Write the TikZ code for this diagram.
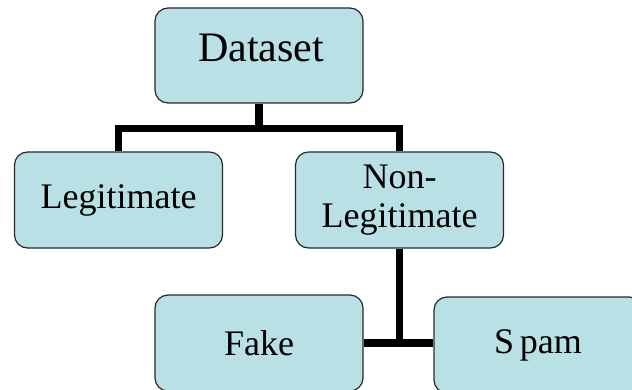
\documentclass[tikz,border=0pt]{standalone}
\usepackage{fontspec}
\setmainfont{Liberation Serif}
\usepackage{tikz}
\usetikzlibrary{positioning}
\usepackage{xcolor}

\definecolor{boxfill}{RGB}{185,224,228}
\definecolor{boxline}{RGB}{40,40,40}

\begin{document}
\begin{tikzpicture}[
    x=1pt, y=-1pt,
    box/.style={draw=boxline, line width=1.2pt, fill=boxfill, rounded corners=13pt,
                minimum width=208pt, minimum height=96pt, inner sep=0pt,
                align=center, font=\fontsize{36}{39}\selectfont},
    link/.style={line width=7.5pt, line cap=butt, line join=miter},
]
\clip (0,0) rectangle (632,389);

% ---- Boxes ----
\node[box, minimum height=95pt] (data) at (259,55.5) {};
\node[font=\fontsize{42}{46}\selectfont] at ([xshift=2pt, yshift=8pt]data.center) {Dataset};

\node[box] (legit) at (118.5,200) {Legitimate};
\node[box] (nonleg) at (399.5,200) {Non-\\Legitimate};

\node[box] (fake) at (259,343) {Fake};
\node[box] (spam) at (538,345) {S\,pam};

% ---- Links ----
\draw[link] (data.south) -- ++(0,25) -| (legit.north);
\draw[link] (data.south) -- ++(0,25) -| (nonleg.north);
\draw[link] (nonleg.south) -- (nonleg.south |- fake.east);
\draw[link] (fake.east) -- (spam.west |- fake.east);

\end{tikzpicture}
\end{document}
